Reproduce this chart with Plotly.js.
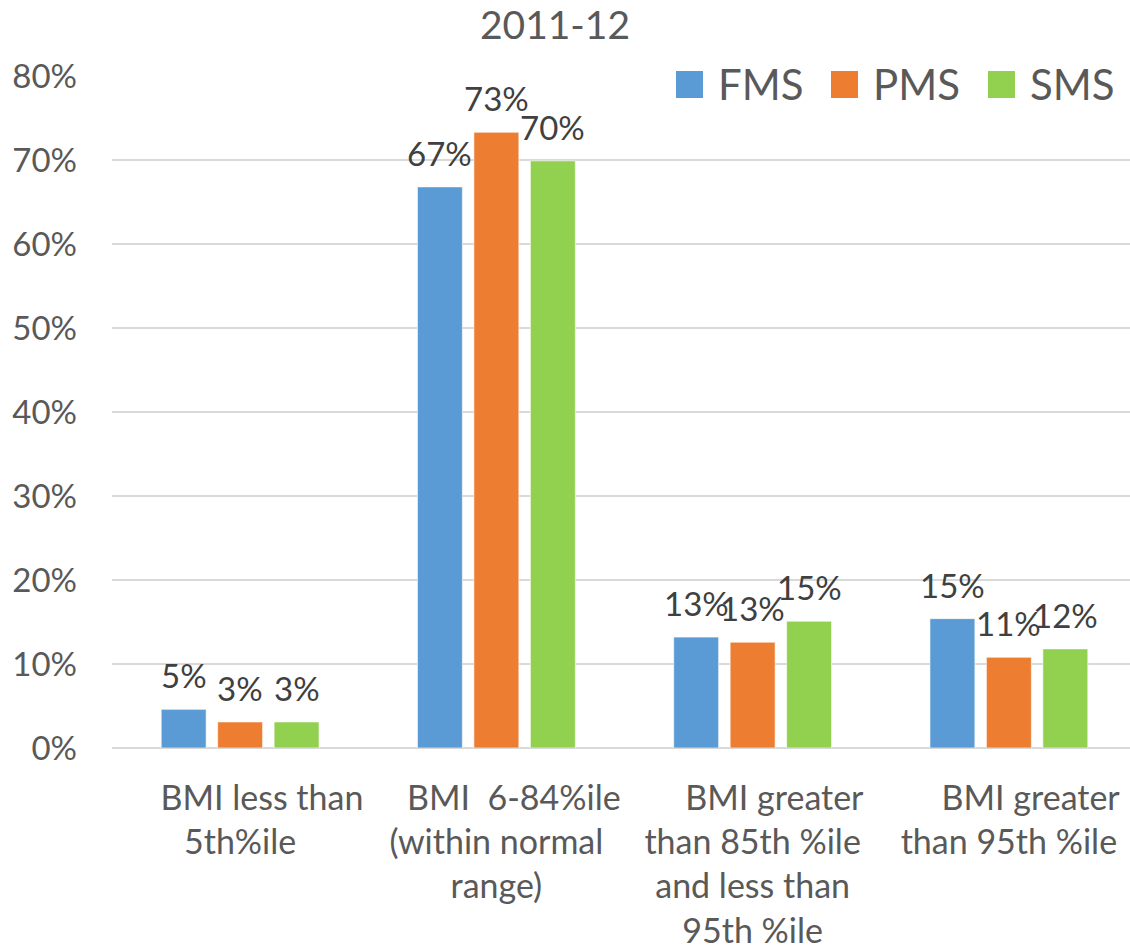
<!DOCTYPE html>
<html>
<head>
<meta charset="utf-8">
<script src="https://cdn.plot.ly/plotly-3.0.1.min.js"></script>
<style>html,body{margin:0;padding:0;background:#fff;}#chart{width:1130px;height:949px;}</style>
</head>
<body>
<div id="chart"></div>
<script>
var NB = "\u00a0";
function pad(n) { return new Array(n + 1).join(NB); }
var categories = [
  pad(5) + "BMI less than<br>5th%ile",
  pad(4) + "BMI  6-84%ile<br>(within normal<br>range)",
  pad(5) + "BMI greater<br>than 85th %ile<br>and less than<br>95th %ile",
  pad(5) + "BMI greater<br>than 95th %ile"
];
var seriesNames = ["FMS", "PMS", "SMS"];
var fms = [0.046, 0.668, 0.132, 0.154];
var pms = [0.031, 0.733, 0.126, 0.108];
var sms = [0.031, 0.699, 0.151, 0.118];
var colors = ["#5B9BD5", "#ED7D31", "#92D050"];
var yTickVals = [0, 0.1, 0.2, 0.3, 0.4, 0.5, 0.6, 0.7, 0.8];
var chartTitle = "2011-12";

var FONT = "Lato, 'Open Sans', sans-serif";
var series = [fms, pms, sms];
var traces = series.map(function (vals, i) {
  return {
    type: "bar",
    name: seriesNames[i],
    x: categories,
    y: vals,
    marker: { color: colors[i], line: { color: "rgba(255,255,255,0.6)", width: 1 } },
    hoverinfo: "none",
    showlegend: false
  };
});

var BARGAP = 0.339, BARGROUPGAP = 0.204;
var CAT_PX = 256.25; // pixels per category on the x axis
var pitch = CAT_PX * (1 - BARGAP) / series.length;

var shapes = [];
var annotations = [];
// data labels above each bar
series.forEach(function (vals, i) {
  vals.forEach(function (v, j) {
    annotations.push({
      x: categories[j], y: v, xref: "x", yref: "y",
      xshift: (i - (series.length - 1) / 2) * pitch, yshift: 12,
      xanchor: "center", yanchor: "bottom", showarrow: false,
      text: Math.round(v * 100) + "%",
      font: { family: FONT, size: 33, color: "#404040" }
    });
  });
});

// custom legend (large squares like the reference)
var legendSquareX = [676, 831, 988];
seriesNames.forEach(function (n, i) {
  shapes.push({
    type: "rect", xref: "paper", yref: "paper",
    x0: (legendSquareX[i] - 112) / 1018, x1: (legendSquareX[i] + 27 - 112) / 1018,
    y0: (748 - 98) / 672, y1: (748 - 71) / 672,
    fillcolor: colors[i], line: { width: 0 }
  });
  annotations.push({
    xref: "paper", yref: "paper",
    x: (legendSquareX[i] + 40 - 112) / 1018, y: (748 - 84) / 672,
    xanchor: "left", yanchor: "middle", showarrow: false,
    text: n, font: { family: FONT, size: 42, color: "#595959" }
  });
});

var layout = {
  width: 1130, height: 949,
  margin: { l: 112, r: 0, t: 76, b: 201 },
  paper_bgcolor: "#fff", plot_bgcolor: "#fff",
  font: { family: FONT, color: "#595959" },
  title: {
    text: chartTitle,
    font: { family: FONT, size: 39, color: "#595959" },
    xref: "container", x: 555 / 1130, xanchor: "center",
    yref: "container", y: 1 - 25 / 949, yanchor: "middle"
  },
  barmode: "group",
  bargap: BARGAP,
  bargroupgap: BARGROUPGAP,
  xaxis: {
    type: "category",
    range: [-0.5, 3.5 - 7 / CAT_PX],
    showgrid: false, zeroline: false, showline: false,
    ticks: "", ticklabelstandoff: 27, tickangle: 0,
    tickfont: { family: FONT, size: 34, color: "#595959" },
    fixedrange: true
  },
  yaxis: {
    range: [0, 0.8],
    tickvals: yTickVals,
    tickformat: ".0%",
    showgrid: true, gridcolor: "#d9d9d9", gridwidth: 1.5,
    zeroline: true, zerolinecolor: "#d9d9d9", zerolinewidth: 1.5,
    showline: false, ticks: "", ticklabelstandoff: 34,
    tickfont: { family: FONT, size: 33, color: "#595959" },
    fixedrange: true
  },
  shapes: shapes,
  annotations: annotations
};

Plotly.newPlot("chart", traces, layout, { displayModeBar: false, staticPlot: true });
</script>
</body>
</html>
